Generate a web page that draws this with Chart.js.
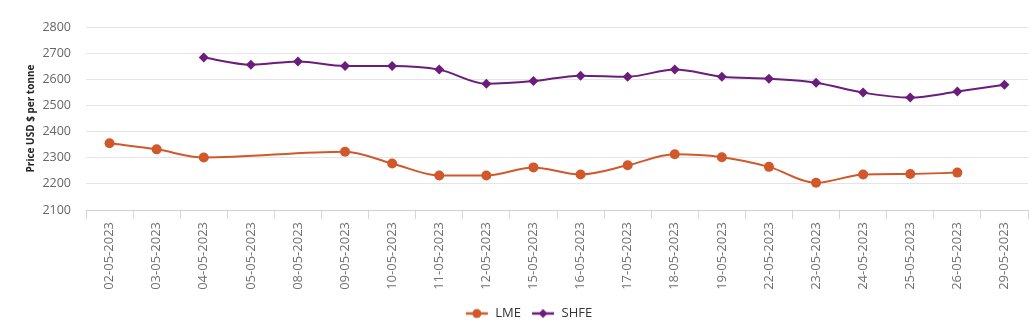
<!DOCTYPE html>
<html>
<head>
<meta charset="utf-8">
<script src="https://cdn.jsdelivr.net/npm/chart.js@4/dist/chart.umd.min.js"></script>
<style>
  html, body { margin: 0; padding: 0; background: #fff; overflow: hidden; }
  #wrap { width: 1033px; height: 330px; position: relative; }
</style>
</head>
<body>
<div id="wrap"><canvas id="priceChart"></canvas></div>
<script>
var dates = ['02-05-2023', '03-05-2023', '04-05-2023', '05-05-2023', '08-05-2023',
    '09-05-2023', '10-05-2023', '11-05-2023', '12-05-2023', '15-05-2023',
    '16-05-2023', '17-05-2023', '18-05-2023', '19-05-2023', '22-05-2023',
    '23-05-2023', '24-05-2023', '25-05-2023', '26-05-2023', '29-05-2023'];

// LME has no quote on 05-05, 08-05 and 29-05
var lme = [2355, 2332, 2301, null, null, 2323, 2278, 2232, 2232, 2263,
    2236, 2271, 2313, 2302, 2265, 2204, 2236, 2238, 2243, null];

// SHFE starts on 04-05
var shfe = [null, null, 2683, 2656, 2668, 2651, 2651, 2637, 2583, 2593,
    2614, 2610, 2637, 2610, 2602, 2587, 2549, 2530, 2553, 2579];

var yTicks = [2100, 2200, 2300, 2400, 2500, 2600, 2700, 2800];

var lmeColor = '#d0582b';
var shfeColor = '#6b1d7c';

// small line + marker images for the legend
function legendIcon(color, style) {
    var c = document.createElement('canvas');
    c.width = 24;
    c.height = 12;
    var g = c.getContext('2d');
    g.strokeStyle = color;
    g.fillStyle = color;
    g.lineWidth = 2.5;
    g.beginPath();
    g.moveTo(1, 6);
    g.lineTo(23, 6);
    g.stroke();
    g.beginPath();
    if (style === 'circle') {
        g.arc(12, 6, 4.5, 0, Math.PI * 2);
    } else {
        g.moveTo(12, 1.5);
        g.lineTo(16.5, 6);
        g.lineTo(12, 10.5);
        g.lineTo(7.5, 6);
        g.closePath();
    }
    g.fill();
    return c;
}

var icons = [legendIcon(lmeColor, 'circle'), legendIcon(shfeColor, 'diamond')];

var ctx = document.getElementById('priceChart');

var chart = new Chart(ctx, {
    type: 'line',
    data: {
        labels: dates,
        datasets: [
            {
                label: 'LME',
                data: lme,
                borderColor: lmeColor,
                backgroundColor: lmeColor,
                borderWidth: 2,
                pointStyle: 'circle',
                pointRadius: 5,
                pointBorderWidth: 0,
                spanGaps: true,
                cubicInterpolationMode: 'monotone',
                fill: false
            },
            {
                label: 'SHFE',
                data: shfe,
                borderColor: shfeColor,
                backgroundColor: shfeColor,
                borderWidth: 2,
                pointStyle: 'rectRot',
                pointRadius: 5,
                pointBorderWidth: 0,
                spanGaps: true,
                cubicInterpolationMode: 'monotone',
                fill: false
            }
        ]
    },
    options: {
        responsive: true,
        maintainAspectRatio: false,
        animation: false,
        layout: {
            padding: { top: 27, left: 24, right: 0, bottom: 0 }
        },
        scales: {
            x: {
                offset: true,
                border: { display: true, color: '#d0d0d0' },
                grid: {
                    offset: true,
                    drawOnChartArea: false,
                    drawTicks: true,
                    tickLength: 9,
                    color: '#d6d6d6'
                },
                ticks: {
                    autoSkip: false,
                    maxRotation: 90,
                    minRotation: 90,
                    padding: 3,
                    color: '#707070',
                    font: { family: 'Open Sans', size: 13 }
                },
                afterFit: function (scale) {
                    scale.height = 87;
                    scale.paddingLeft = 0;
                    scale.paddingRight = 0;
                }
            },
            y: {
                min: 2100,
                max: 2800,
                afterBuildTicks: function (scale) {
                    scale.ticks = yTicks.map(function (v) { return { value: v }; });
                },
                border: { display: false },
                grid: { color: '#e4e4e4', drawTicks: false },
                ticks: {
                    padding: 15,
                    color: '#666',
                    font: { family: 'Open Sans', size: 12.5 },
                    callback: function (v) { return String(v); }
                },
                title: {
                    display: true,
                    text: 'Price USD $ per tonne',
                    color: '#222',
                    padding: { top: 1, bottom: 0 },
                    font: { family: 'Open Sans', size: 10, weight: 'bold' }
                },
                afterFit: function (scale) {
                    scale.width = 62;
                    scale.paddingTop = 0;
                    scale.paddingBottom = 0;
                }
            }
        },
        plugins: {
            legend: {
                display: true,
                position: 'bottom',
                labels: {
                    usePointStyle: true,
                    pointStyleWidth: 24,
                    padding: 10,
                    color: '#333',
                    font: { family: 'Open Sans', size: 13 },
                    generateLabels: function (chart) {
                        return chart.data.datasets.map(function (ds, i) {
                            return {
                                text: ds.label,
                                fillStyle: ds.borderColor,
                                strokeStyle: ds.borderColor,
                                fontColor: '#333',
                                lineWidth: 0,
                                pointStyle: icons[i],
                                hidden: false,
                                datasetIndex: i
                            };
                        });
                    }
                }
            },
            tooltip: { enabled: false }
        }
    }
});
</script>
</body>
</html>
